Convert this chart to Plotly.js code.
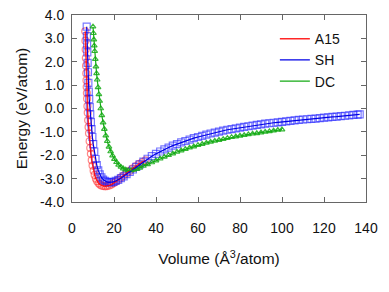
<!DOCTYPE html>
<html>
<head>
<meta charset="utf-8">
<script src="https://cdn.plot.ly/plotly-3.0.1.min.js"></script>
<style>html,body{margin:0;padding:0;background:#fff;}#chart{width:389px;height:292px;}</style>
</head>
<body>
<div id="chart"></div>
<script>
// Series names
const seriesNames = ["A15", "SH", "DC"];

// A15 (volume Å^3/atom, energy eV/atom)
const a15Volume = [6.3, 6.4, 6.5, 6.6, 6.7, 6.8, 6.9, 7.0, 7.1, 7.2, 7.35, 7.5, 7.7, 7.9, 8.1, 8.4, 8.7, 9.0, 9.4, 9.8, 10.3, 10.8, 11.4, 12.0, 12.7, 13.4, 14.2, 15.0, 15.9, 16.8, 17.8, 18.8, 19.9, 21.0, 22.2, 23.4, 24.7, 26.0, 27.4, 28.8, 30.3, 31.8, 33.4, 35.0];
const a15Energy = [3.30, 2.90, 2.52, 2.16, 1.82, 1.50, 1.20, 0.92, 0.66, 0.42, 0.10, -0.18, -0.50, -0.80, -1.06, -1.40, -1.69, -1.94, -2.21, -2.44, -2.66, -2.84, -3.00, -3.11, -3.20, -3.26, -3.30, -3.32, -3.33, -3.32, -3.29, -3.25, -3.19, -3.12, -3.04, -2.95, -2.86, -2.77, -2.67, -2.57, -2.47, -2.38, -2.30, -2.22];

// SH
const shVolume = [7.0, 7.1, 7.2, 7.3, 7.45, 7.6, 7.8, 8.0, 8.2, 8.45, 8.7, 9.0, 9.3, 9.7, 10.1, 10.6, 11.2, 11.8, 12.5, 13.2, 14.0, 14.8, 15.7, 16.6, 17.6, 18.6, 19.7, 20.8, 22.0, 23.3, 24.6, 26.0, 27.5, 29.0, 30.6, 32.2, 34.0, 36, 38, 40, 42, 44, 46, 48, 50, 52, 54, 56, 58, 60, 62, 64, 66, 68, 70, 72, 74, 76, 78, 80, 82, 84, 86, 88, 90, 92, 94, 96, 98, 100, 102, 104, 106, 108, 110, 112, 114, 116, 118, 120, 122, 124, 126, 128, 130, 132, 134, 136, 137];
const shEnergy = [3.50, 3.10, 2.74, 2.40, 1.95, 1.55, 1.10, 0.72, 0.40, 0.06, -0.25, -0.58, -0.88, -1.22, -1.52, -1.84, -2.16, -2.42, -2.65, -2.82, -2.95, -3.04, -3.10, -3.14, -3.16, -3.16, -3.14, -3.10, -3.05, -2.98, -2.90, -2.81, -2.71, -2.61, -2.50, -2.39, -2.27, -2.15, -2.04, -1.94, -1.84, -1.75, -1.67, -1.59, -1.52, -1.45, -1.39, -1.33, -1.27, -1.22, -1.17, -1.12, -1.07, -1.03, -0.99, -0.95, -0.91, -0.88, -0.85, -0.82, -0.79, -0.76, -0.73, -0.70, -0.68, -0.65, -0.63, -0.61, -0.59, -0.57, -0.55, -0.53, -0.51, -0.49, -0.47, -0.46, -0.44, -0.43, -0.41, -0.39, -0.38, -0.36, -0.35, -0.33, -0.31, -0.29, -0.27, -0.26, -0.25];

// DC
const dcVolume = [10.0, 10.2, 10.4, 10.6, 10.8, 11.1, 11.4, 11.7, 12.0, 12.4, 12.8, 13.2, 13.7, 14.2, 14.8, 15.4, 16.1, 16.8, 17.6, 18.4, 19.3, 20.2, 21.2, 22.2, 23.3, 24.4, 25.6, 26.8, 28.1, 29.4, 30.8, 32.3, 34, 36, 38, 40, 42, 44, 46, 48, 50, 52, 54, 56, 58, 60, 62, 64, 66, 68, 70, 72, 74, 76, 78, 80, 82, 84, 86, 88, 90, 92, 94, 96, 98, 100];
const dcEnergy = [3.50, 3.22, 2.95, 2.69, 2.45, 2.11, 1.79, 1.50, 1.23, 0.90, 0.60, 0.32, 0.00, -0.29, -0.60, -0.88, -1.16, -1.40, -1.64, -1.84, -2.02, -2.17, -2.30, -2.41, -2.50, -2.57, -2.62, -2.65, -2.65, -2.63, -2.59, -2.54, -2.46, -2.39, -2.31, -2.23, -2.15, -2.07, -2.00, -1.93, -1.86, -1.80, -1.74, -1.68, -1.63, -1.57, -1.52, -1.47, -1.43, -1.39, -1.35, -1.31, -1.27, -1.23, -1.20, -1.17, -1.14, -1.11, -1.08, -1.06, -1.03, -1.00, -0.98, -0.95, -0.92, -0.90];

// Axis ticks
const xTicks = [0, 20, 40, 60, 80, 100, 120, 140];
const yTicks = [-4, -3, -2, -1, 0, 1, 2, 3, 4];

const FONT = '"Liberation Sans", Arial, Helvetica, sans-serif';

const traces = [
  {x: a15Volume, y: a15Energy, mode: 'markers', showlegend: false, hoverinfo: 'skip',
   marker: {symbol: 'circle-open', size: 7, color: 'rgba(255,40,40,0.55)', line: {width: 1.2}}},
  {x: shVolume, y: shEnergy, mode: 'markers', showlegend: false, hoverinfo: 'skip',
   marker: {symbol: 'square-open', size: 7, color: 'rgba(30,30,255,0.6)', line: {width: 1.2}}},
  {x: dcVolume, y: dcEnergy, mode: 'markers', showlegend: false, hoverinfo: 'skip',
   marker: {symbol: 'triangle-up-open', size: 5, color: 'rgba(20,170,20,0.85)', line: {width: 1.2}}},
  {x: a15Volume, y: a15Energy, mode: 'lines', name: seriesNames[0],
   line: {color: 'rgba(255,0,0,0.85)', width: 1.5}},
  {x: shVolume, y: shEnergy, mode: 'lines', name: seriesNames[1],
   line: {color: 'rgb(0,0,230)', width: 1.2}},
  {x: dcVolume, y: dcEnergy, mode: 'lines', name: seriesNames[2],
   line: {color: 'rgb(20,170,20)', width: 1.2}}
];

const axisCommon = {
  showline: true, mirror: 'ticks', linecolor: '#666', linewidth: 1,
  ticks: 'inside', ticklen: 5, tickcolor: '#666', tickwidth: 1,
  showgrid: false, zeroline: false,
  tickfont: {family: FONT, size: 14, color: '#111'}
};

const layout = {
  width: 389, height: 292,
  margin: {l: 72, r: 23, t: 15, b: 90},
  paper_bgcolor: '#fff', plot_bgcolor: '#fff',
  font: {family: FONT, size: 14, color: '#111'},
  xaxis: Object.assign({}, axisCommon, {
    range: [0, 140], tickvals: xTicks, ticktext: xTicks.map(String),
    ticklabelstandoff: 13,
    title: {text: 'Volume (Å<sup>3</sup>/atom)', font: {family: FONT, size: 15.5, color: '#111'}, standoff: 18}
  }),
  yaxis: Object.assign({}, axisCommon, {
    range: [-4, 4], tickvals: yTicks, ticktext: yTicks.map(v => v.toFixed(1)),
    ticklabelstandoff: 4,
    title: {text: 'Energy (eV/atom)', font: {family: FONT, size: 15.5, color: '#111'}, standoff: 8}
  }),
  legend: {x: 0.69, y: 0.957, xanchor: 'left', yanchor: 'top', bgcolor: 'rgba(0,0,0,0)',
    font: {family: FONT, size: 14, color: '#111'}},
  showlegend: true
};

Plotly.newPlot('chart', traces, layout, {staticPlot: true, displayModeBar: false});
</script>
</body>
</html>
